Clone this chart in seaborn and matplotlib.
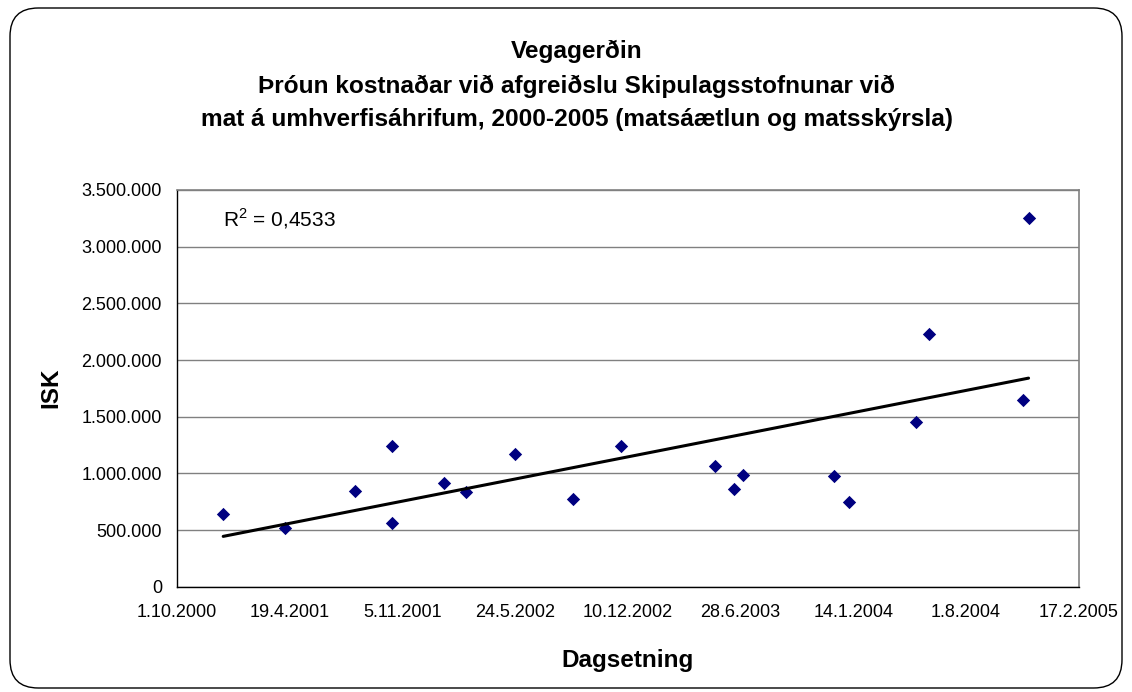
import numpy as np
import pandas as pd
import matplotlib
matplotlib.use("Agg")
import matplotlib.pyplot as plt
import matplotlib.dates as mdates
from matplotlib.patches import FancyBboxPatch
from matplotlib.ticker import FuncFormatter, FixedLocator
import seaborn as sns

# ---- data ----
dates = ["2000-12-22", "2001-04-11", "2001-08-12", "2001-10-17", "2001-10-17",
         "2002-01-17", "2002-02-26", "2002-05-23", "2002-09-03", "2002-11-27",
         "2003-05-14", "2003-06-17", "2003-07-02", "2003-12-11", "2004-01-07",
         "2004-05-05", "2004-05-27", "2004-11-11", "2004-11-20"]
costs = [638000, 515000, 847000, 1243000, 564000,
         912000, 832000, 1167000, 773000, 1243000,
         1062000, 864000, 988000, 973000, 744000,
         1455000, 2228000, 1649000, 3254000]
x_tick_labels = ["1.10.2000", "19.4.2001", "5.11.2001", "24.5.2002", "10.12.2002",
                 "28.6.2003", "14.1.2004", "1.8.2004", "17.2.2005"]
y_ticks = [0, 500000, 1000000, 1500000, 2000000, 2500000, 3000000, 3500000]
title_lines = ["Vegagerðin",
               "Þróun kostnaðar við afgreiðslu Skipulagsstofnunar við",
               "mat á umhverfisáhrifum, 2000-2005 (matsáætlun og matsskýrsla)"]
r2_text = "R$^2$ = 0,4533"

sns.set_theme(style="white")
plt.rcParams['font.family'] = ['Liberation Sans', 'DejaVu Sans']
plt.rcParams['mathtext.fontset'] = 'custom'
plt.rcParams['mathtext.rm'] = 'Liberation Sans'
plt.rcParams['text.color'] = 'black'
plt.rcParams['axes.labelcolor'] = 'black'
plt.rcParams['xtick.color'] = 'black'
plt.rcParams['ytick.color'] = 'black'

df = pd.DataFrame({"date": pd.to_datetime(dates), "cost": costs})
df["dnum"] = mdates.date2num(df["date"])
tick_nums = mdates.date2num(pd.to_datetime(x_tick_labels, format="%d.%m.%Y"))

W, H = 1132, 692
fig = plt.figure(figsize=(W / 100, H / 100), dpi=100)
ax_left, ax_right, ax_top, ax_bottom = 177, 1078.7, 190, 586.7
ax = fig.add_axes([ax_left / W, 1 - ax_bottom / H,
                   (ax_right - ax_left) / W, (ax_bottom - ax_top) / H])

ax.yaxis.grid(True, color="#808080", linewidth=1)
ax.set_axisbelow(True)

sns.regplot(data=df, x="dnum", y="cost", ax=ax, ci=None, truncate=True, marker="D",
            scatter_kws=dict(s=46, color="#000080", alpha=1, linewidths=0, zorder=3),
            line_kws=dict(color="black", linewidth=2.2, zorder=4))

ax.set_xlim(tick_nums[0], tick_nums[-1])
ax.set_ylim(0, 3500000)
ax.xaxis.set_major_locator(FixedLocator(tick_nums))
ax.set_xticklabels(x_tick_labels)
ax.set_yticks(y_ticks)
ax.yaxis.set_major_formatter(FuncFormatter(lambda v, p: f"{int(v):,}".replace(",", ".")))

ax.tick_params(axis="both", which="major", direction="out", length=4.3, width=1,
               color="black", labelsize=13)
ax.tick_params(axis="y", pad=6.5)
ax.tick_params(axis="x", pad=8)

for side in ["top", "right"]:
    ax.spines[side].set_color("#808080")
    ax.spines[side].set_linewidth(1.2)
for side in ["left", "bottom"]:
    ax.spines[side].set_color("black")
    ax.spines[side].set_linewidth(1)

ax.set_xlabel("")
ax.set_ylabel("")
fig.text(0.5 * (ax_left + ax_right) / W, 1 - 666.7 / H, "Dagsetning", ha="center",
         va="baseline", fontsize=17.5, fontweight="bold")
fig.text(51 / W, 1 - 388 / H, "ISK", ha="center", va="center", rotation=90,
         fontsize=17.5, fontweight="bold")

ax.text((223 - ax_left) / (ax_right - ax_left), (ax_bottom - 226) / (ax_bottom - ax_top),
        r2_text, transform=ax.transAxes, fontsize=15, va="baseline", ha="left")

for line, yb in zip(title_lines, [58.3, 92.7, 126.0]):
    fig.text(576.7 / W, 1 - yb / H, line, ha="center",
             va="baseline", fontsize=17.6, fontweight="bold")

border = FancyBboxPatch((10 / W, 4 / H), 1112 / W, 680 / H,
                        boxstyle="round,pad=0,rounding_size=0.025",
                        transform=fig.transFigure, fill=False,
                        edgecolor="black", linewidth=1, mutation_aspect=W / H)
fig.patches.append(border)

fig.savefig("out.png", dpi=100)
